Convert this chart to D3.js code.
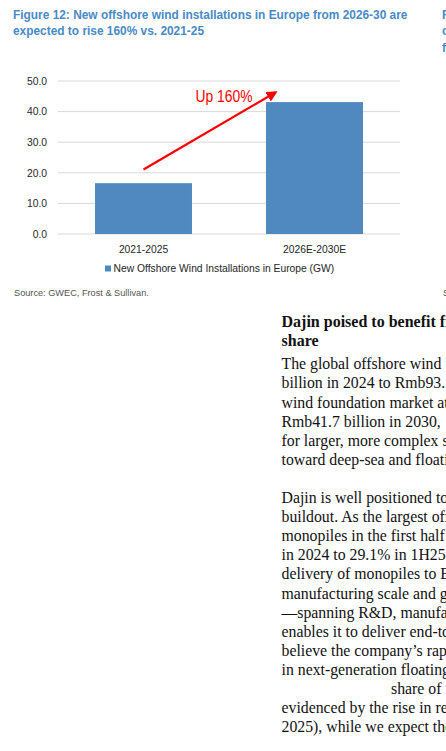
<!DOCTYPE html>
<html>
<head>
<meta charset="utf-8">
<script src="https://cdn.jsdelivr.net/npm/d3@7"></script>
<style>
  html, body { margin: 0; padding: 0; background: #fff; overflow: hidden; }
  svg { display: block; }
</style>
</head>
<body>
<svg id="page" width="446" height="751"></svg>
<script>
// ---- data ----
const categories = ["2021-2025", "2026E-2030E"];
const installations = [16.6, 43.1];
const yTicks = [0, 10, 20, 30, 40, 50];
const seriesName = "New Offshore Wind Installations in Europe (GW)";
const annotationText = "Up 160%";
const arrowFrom = [0, 21.1];   // [category index, value]
const arrowTo = [1, 46.3];
const titleLines = [
  "Figure 12: New offshore wind installations in Europe from 2026-30 are",
  "expected to rise 160% vs. 2021-25"
];
const sourceText = "Source: GWEC, Frost & Sullivan.";
const headingLines = ["Dajin poised to benefit from", "share"];
const bodyLines = [
  "The global offshore wind foundation",
  "billion in 2024 to Rmb93.",
  "wind foundation market at",
  "Rmb41.7 billion in 2030, ",
  "for larger, more complex s",
  "toward deep-sea and floating",
  "",
  "Dajin is well positioned to",
  "buildout. As the largest offshore",
  "monopiles in the first half",
  "in 2024 to 29.1% in 1H25",
  "delivery of monopiles to Europe",
  "manufacturing scale and global",
  "\u2014spanning R&D, manufacturing",
  "enables it to deliver end-to-end",
  "believe the company\u2019s rapid",
  "in next-generation floating",
  "share of the",
  "evidenced by the rise in revenue",
  "2025), while we expect the"
];

const svg = d3.select("#page");
const sans = "'Liberation Sans', Arial, sans-serif";
const serif = "'Liberation Serif', 'Times New Roman', serif";

// ---- title ----
const title = svg.append("g").attr("font-family", sans).attr("font-weight", "bold").attr("fill", "#4a8ac6");
titleLines.forEach((t, i) => {
  title.append("text").attr("x", 13).attr("y", 18.5 + i * 16.5).attr("font-size", 12).text(t);
});
const t0 = title.select("text").node();
const fs = 12 * 395 / t0.getComputedTextLength();
title.selectAll("text").attr("font-size", fs);

// neighbouring column (clipped at the page edge, as in the reference)
const side = svg.append("g").attr("font-family", sans).attr("font-weight", "bold").attr("fill", "#4a8ac6").attr("font-size", fs);
["Figure 13", "c", "f"].forEach((t, i) => side.append("text").attr("x", 442).attr("y", 18.5 + i * 16.5).text(t));

// ---- chart ----
const x = d3.scaleBand().domain(categories).range([58, 400]).paddingInner(0.433).paddingOuter(0.2165);
const y = d3.scaleLinear().domain([0, 50]).range([234, 81]);

const grid = svg.append("g");
grid.selectAll("line").data(yTicks).join("line")
  .attr("x1", 58).attr("x2", 400)
  .attr("y1", d => y(d)).attr("y2", d => y(d))
  .attr("stroke", "#d9d9d9").attr("stroke-width", 1);

const yAxis = svg.append("g").attr("transform", "translate(58,0)")
  .call(d3.axisLeft(y).tickValues(yTicks).tickFormat(d3.format(".1f")).tickSize(0).tickPadding(11));
yAxis.select(".domain").remove();
yAxis.selectAll("text").attr("font-family", sans).attr("font-size", 10.3).attr("fill", "#262626");

svg.append("g").selectAll("rect").data(installations).join("rect")
  .attr("x", (d, i) => x(categories[i]))
  .attr("width", x.bandwidth())
  .attr("y", d => y(d))
  .attr("height", d => y(0) - y(d))
  .attr("fill", "#4f89bf");

const xAxis = svg.append("g").attr("transform", `translate(0,${y(0)})`)
  .call(d3.axisBottom(x).tickSize(0).tickPadding(12));
xAxis.select(".domain").remove();
xAxis.selectAll("text").attr("font-family", sans).attr("font-size", 10.3).attr("fill", "#262626");

// arrow annotation
const defs = svg.append("defs");
defs.append("marker").attr("id", "ah").attr("viewBox", "0 0 10 10").attr("refX", 8).attr("refY", 5)
  .attr("markerWidth", 5).attr("markerHeight", 5).attr("orient", "auto").attr("markerUnits", "strokeWidth")
  .append("path").attr("d", "M0,0 L10,5 L0,10 Z").attr("fill", "#ff0000");
const ax1 = x(categories[arrowFrom[0]]) + x.bandwidth() / 2;
const ax2 = x(categories[arrowTo[0]]) + x.bandwidth() * 0.1;
svg.append("line")
  .attr("x1", ax1).attr("y1", y(arrowFrom[1]))
  .attr("x2", ax2).attr("y2", y(arrowTo[1]))
  .attr("stroke", "#ff0000").attr("stroke-width", 2.2).attr("marker-end", "url(#ah)");
svg.append("text")
  .attr("x", (x(categories[0]) + x.bandwidth() + x(categories[1])) / 2 - 5)
  .attr("y", y(43.2))
  .attr("text-anchor", "middle")
  .attr("font-family", sans).attr("font-size", 16)
  .attr("textLength", 57).attr("lengthAdjust", "spacingAndGlyphs")
  .attr("fill", "#ff0000").text(annotationText);

// legend
const lg = svg.append("g").attr("transform", "translate(105,265.5)");
lg.append("rect").attr("width", 6).attr("height", 6).attr("fill", "#4f89bf");
lg.append("text").attr("x", 8.5).attr("y", 3).attr("dy", "0.35em")
  .attr("font-family", sans).attr("font-size", 10.3).attr("fill", "#262626").text(seriesName);

// source
svg.append("text").attr("x", 14).attr("y", 296).attr("font-family", sans).attr("font-size", 9.2)
  .attr("fill", "#555").text(sourceText);
svg.append("text").attr("x", 443).attr("y", 296).attr("font-family", sans).attr("font-size", 9.2)
  .attr("fill", "#555").text("Source");

// ---- body text ----
const body = svg.append("g").attr("font-family", serif).attr("fill", "#111");
headingLines.forEach((t, i) => {
  body.append("text").attr("x", 281.5).attr("y", 326.7 + i * 19.3)
    .attr("font-size", 16).attr("font-weight", "bold").text(t);
});
bodyLines.forEach((t, i) => {
  if (!t) return;
  const indent = t.startsWith("share of") ? 391 : 281.5;
  body.append("text").attr("x", indent).attr("y", 369.3 + i * 19.1)
    .attr("font-size", 15.8).text(t);
});
</script>
</body>
</html>
